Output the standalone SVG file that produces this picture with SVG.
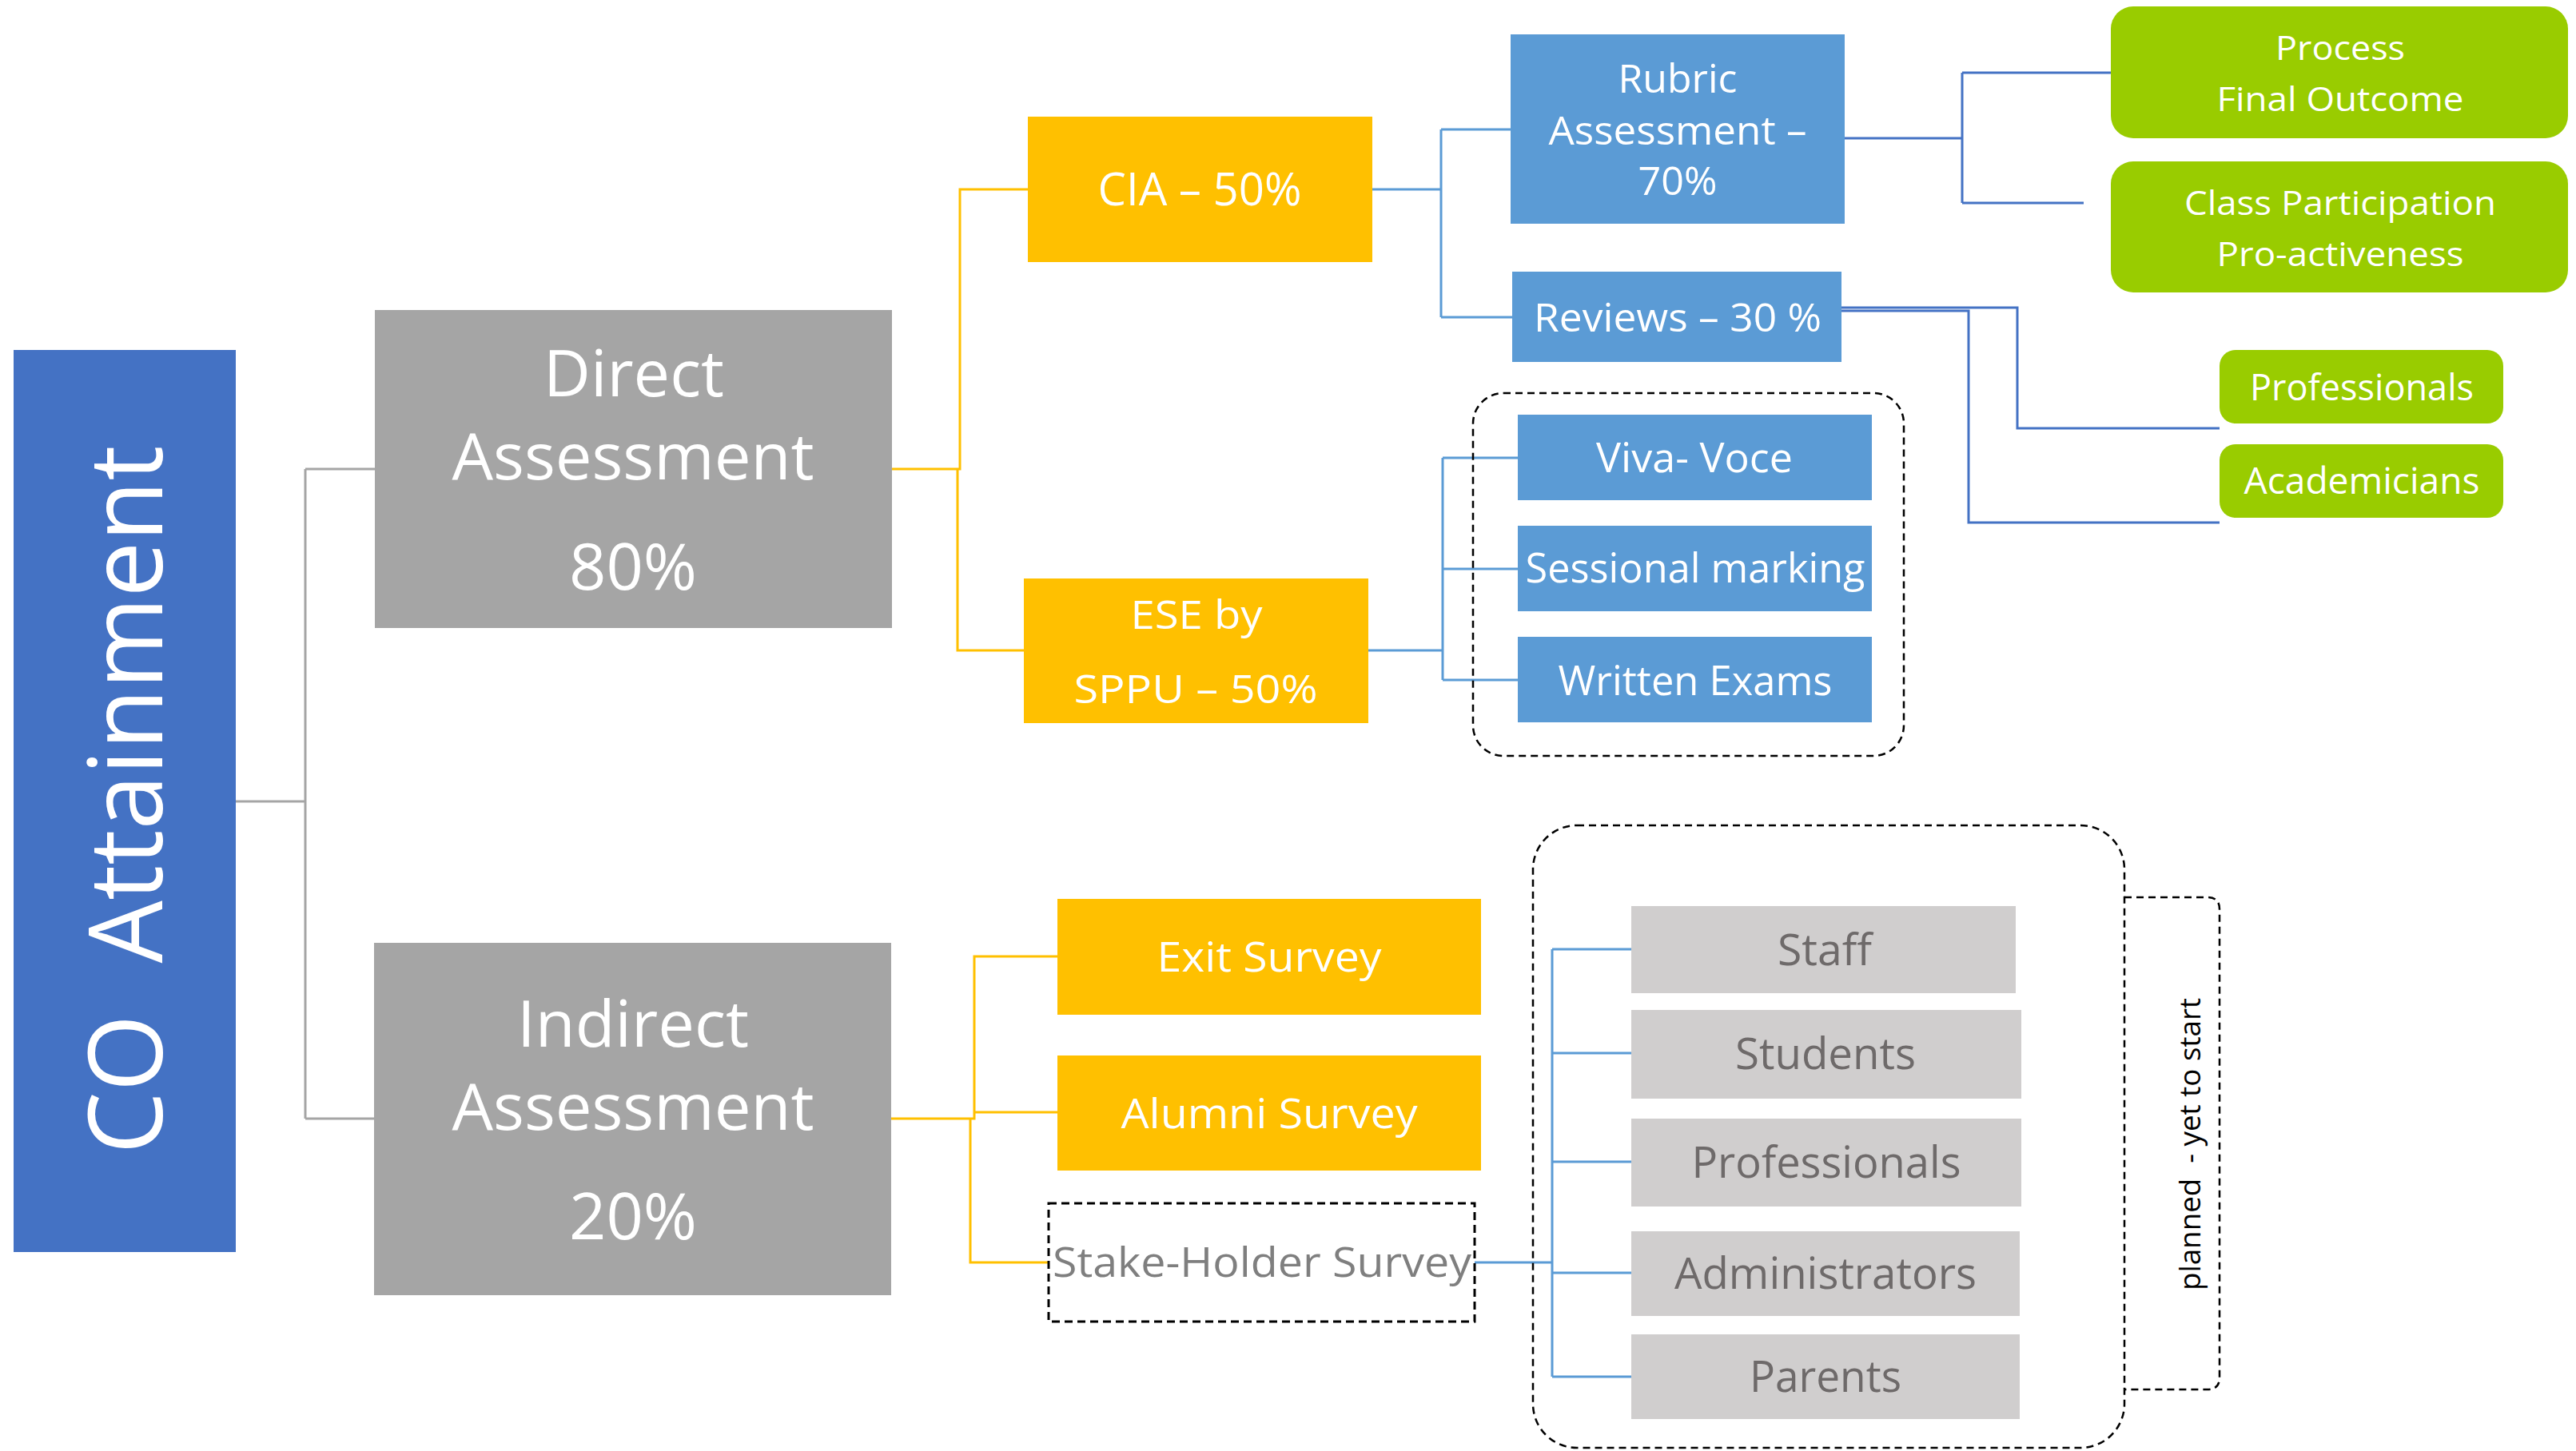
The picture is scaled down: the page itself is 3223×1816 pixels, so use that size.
<svg xmlns="http://www.w3.org/2000/svg" width="3223" height="1816" viewBox="0 0 3223 1816">
<style>
text { font-family: "Open Sans", "Noto Sans", sans-serif; text-anchor: middle; }
.w { fill: #ffffff; }
.gt { fill: #6e6a6a; }
.cg { fill: none; stroke: #a5a5a5; stroke-width: 3; }
.cy { fill: none; stroke: #ffc000; stroke-width: 3; }
.cb { fill: none; stroke: #5b9bd5; stroke-width: 3; }
.cd { fill: none; stroke: #4472c4; stroke-width: 3; }
.dash { fill: none; stroke: #000000; stroke-width: 2.5; stroke-dasharray: 9 6; }
.yel { fill: #ffc000; }
.blu { fill: #5b9bd5; }
.grn { fill: #99cc00; }
.lg { fill: #d0cece; }
.gr { fill: #a5a5a5; }
</style>
<rect width="3223" height="1816" fill="#ffffff"/>

<g id="connectors">
  <path class="cg" d="M295 1003 H382 M382 587 V1400 M382 587 H469 M382 1400 H468"/>
  <path class="cy" d="M1116 587 H1201 V237 H1286 M1198 587 V814 H1281"/>
  <path class="cy" d="M1115 1400 H1219 V1197 H1323 M1219 1392 H1323 M1214 1400 V1580 H1312"/>
  <path class="cb" d="M1717 237 H1803 M1803 162 V397 M1803 162 H1890 M1803 397 H1892"/>
  <path class="cb" d="M1712 814 H1805 M1805 573 V851 M1805 573 H1899 M1805 712 H1899 M1805 851 H1899"/>
  <path class="cd" d="M2308 173 H2455 M2455 91 V254 M2455 91 H2641 M2455 254 H2607"/>
  <path class="cd" d="M2304 385 H2524 V536 H2777 M2304 389 H2463 V654 H2777"/>
  <path class="cb" d="M1845 1580 H1942 M1942 1188 V1723 M1942 1188 H2041 M1942 1318 H2041 M1942 1454 H2041 M1942 1593 H2041 M1942 1723 H2041"/>
</g>

<g id="co-attainment">
  <rect x="17" y="438" width="278" height="1129" fill="#4472c4"/>
  <text class="w" transform="translate(203,1001) rotate(-90)" font-size="128" textLength="887" lengthAdjust="spacingAndGlyphs" xml:space="preserve">CO  Attainment</text>
</g>

<g id="direct">
  <rect class="gr" x="469" y="388" width="647" height="398"/>
  <text class="w" x="793" y="496" font-size="81" textLength="226" lengthAdjust="spacingAndGlyphs">Direct</text>
  <text class="w" x="792" y="600" font-size="81" textLength="453" lengthAdjust="spacingAndGlyphs">Assessment</text>
  <text class="w" x="792" y="738" font-size="81" textLength="160" lengthAdjust="spacingAndGlyphs">80%</text>
</g>

<g id="indirect">
  <rect class="gr" x="468" y="1180" width="647" height="441"/>
  <text class="w" x="792" y="1310" font-size="81" textLength="290" lengthAdjust="spacingAndGlyphs">Indirect</text>
  <text class="w" x="792" y="1414" font-size="81" textLength="453" lengthAdjust="spacingAndGlyphs">Assessment</text>
  <text class="w" x="792" y="1551" font-size="81" textLength="160" lengthAdjust="spacingAndGlyphs">20%</text>
</g>

<g id="cia">
  <rect class="yel" x="1286" y="146" width="431" height="182"/>
  <text class="w" x="1501" y="257" font-size="56" textLength="255" lengthAdjust="spacingAndGlyphs">CIA – 50%</text>
</g>

<g id="ese">
  <rect class="yel" x="1281" y="724" width="431" height="181"/>
  <text class="w" x="1497" y="787" font-size="50" textLength="165" lengthAdjust="spacingAndGlyphs">ESE by</text>
  <text class="w" x="1496" y="880" font-size="50" textLength="305" lengthAdjust="spacingAndGlyphs">SPPU – 50%</text>
</g>

<g id="rubric">
  <rect class="blu" x="1890" y="43" width="418" height="237"/>
  <text class="w" x="2099" y="116" font-size="50" textLength="149" lengthAdjust="spacingAndGlyphs">Rubric</text>
  <text class="w" x="2099" y="181" font-size="50" textLength="323" lengthAdjust="spacingAndGlyphs">Assessment –</text>
  <text class="w" x="2099" y="244" font-size="50" textLength="99" lengthAdjust="spacingAndGlyphs">70%</text>
</g>

<g id="reviews">
  <rect class="blu" x="1892" y="340" width="412" height="113"/>
  <text class="w" x="2099" y="415" font-size="50" textLength="360" lengthAdjust="spacingAndGlyphs">Reviews – 30 %</text>
</g>

<g id="ese-group">
  <rect class="dash" x="1843" y="492" width="539" height="454" rx="38"/>
</g>

<g id="viva">
  <rect class="blu" x="1899" y="519" width="443" height="107"/>
  <text class="w" x="2120" y="591" font-size="52" textLength="246" lengthAdjust="spacingAndGlyphs">Viva- Voce</text>
</g>

<g id="sessional">
  <rect class="blu" x="1899" y="658" width="443" height="107"/>
  <text class="w" x="2121" y="729" font-size="52" textLength="425" lengthAdjust="spacingAndGlyphs">Sessional marking</text>
</g>

<g id="written">
  <rect class="blu" x="1899" y="797" width="443" height="107"/>
  <text class="w" x="2121" y="870" font-size="52" textLength="343" lengthAdjust="spacingAndGlyphs">Written Exams</text>
</g>

<g id="process">
  <rect class="grn" x="2641" y="8" width="572" height="165" rx="28"/>
  <text class="w" x="2928" y="75" font-size="42" textLength="162" lengthAdjust="spacingAndGlyphs">Process</text>
  <text class="w" x="2928" y="139" font-size="42" textLength="309" lengthAdjust="spacingAndGlyphs">Final Outcome</text>
</g>

<g id="class-participation">
  <rect class="grn" x="2641" y="202" width="572" height="164" rx="28"/>
  <text class="w" x="2928" y="269" font-size="42" textLength="390" lengthAdjust="spacingAndGlyphs">Class Participation</text>
  <text class="w" x="2928" y="333" font-size="42" textLength="309" lengthAdjust="spacingAndGlyphs">Pro-activeness</text>
</g>

<g id="review-professionals">
  <rect class="grn" x="2777" y="438" width="355" height="92" rx="20"/>
  <text class="w" x="2955" y="501" font-size="45" textLength="280" lengthAdjust="spacingAndGlyphs">Professionals</text>
</g>

<g id="academicians">
  <rect class="grn" x="2777" y="556" width="355" height="92" rx="20"/>
  <text class="w" x="2955" y="618" font-size="45" textLength="295" lengthAdjust="spacingAndGlyphs">Academicians</text>
</g>

<g id="exit-survey">
  <rect class="yel" x="1323" y="1125" width="530" height="145"/>
  <text class="w" x="1588" y="1216" font-size="51" textLength="281" lengthAdjust="spacingAndGlyphs">Exit Survey</text>
</g>

<g id="alumni-survey">
  <rect class="yel" x="1323" y="1321" width="530" height="144"/>
  <text class="w" x="1588" y="1412" font-size="51" textLength="371" lengthAdjust="spacingAndGlyphs">Alumni Survey</text>
</g>

<g id="stake-holder-survey">
  <rect x="1312" y="1506" width="533" height="148" fill="none" stroke="#000" stroke-width="3" stroke-dasharray="10 6"/>
  <text x="1579" y="1598" font-size="51" fill="#7f7f7f" textLength="524" lengthAdjust="spacingAndGlyphs">Stake-Holder Survey</text>
</g>

<g id="stakeholder-group">
  <rect class="dash" x="1918" y="1033" width="740" height="779" rx="55"/>
</g>

<g id="staff">
  <rect class="lg" x="2041" y="1134" width="481" height="109"/>
  <text class="gt" x="2283" y="1208" font-size="54" textLength="118" lengthAdjust="spacingAndGlyphs">Staff</text>
</g>

<g id="students">
  <rect class="lg" x="2041" y="1264" width="488" height="111"/>
  <text class="gt" x="2284" y="1338" font-size="54" textLength="226" lengthAdjust="spacingAndGlyphs">Students</text>
</g>

<g id="professionals">
  <rect class="lg" x="2041" y="1400" width="488" height="110"/>
  <text class="gt" x="2285" y="1474" font-size="54" textLength="337" lengthAdjust="spacingAndGlyphs">Professionals</text>
</g>

<g id="administrators">
  <rect class="lg" x="2041" y="1541" width="486" height="106"/>
  <text class="gt" x="2284" y="1613" font-size="54" textLength="378" lengthAdjust="spacingAndGlyphs">Administrators</text>
</g>

<g id="parents">
  <rect class="lg" x="2041" y="1670" width="486" height="106"/>
  <text class="gt" x="2284" y="1742" font-size="54" textLength="190" lengthAdjust="spacingAndGlyphs">Parents</text>
</g>

<g id="planned">
  <path class="dash" d="M2658 1123 H2762 Q2777 1123 2777 1138 V1724 Q2777 1739 2762 1739 H2658"/>
  <text transform="translate(2753,1432) rotate(-90)" font-size="37" fill="#000000" textLength="366" lengthAdjust="spacingAndGlyphs" xml:space="preserve">planned  - yet to start</text>
</g>
</svg>
